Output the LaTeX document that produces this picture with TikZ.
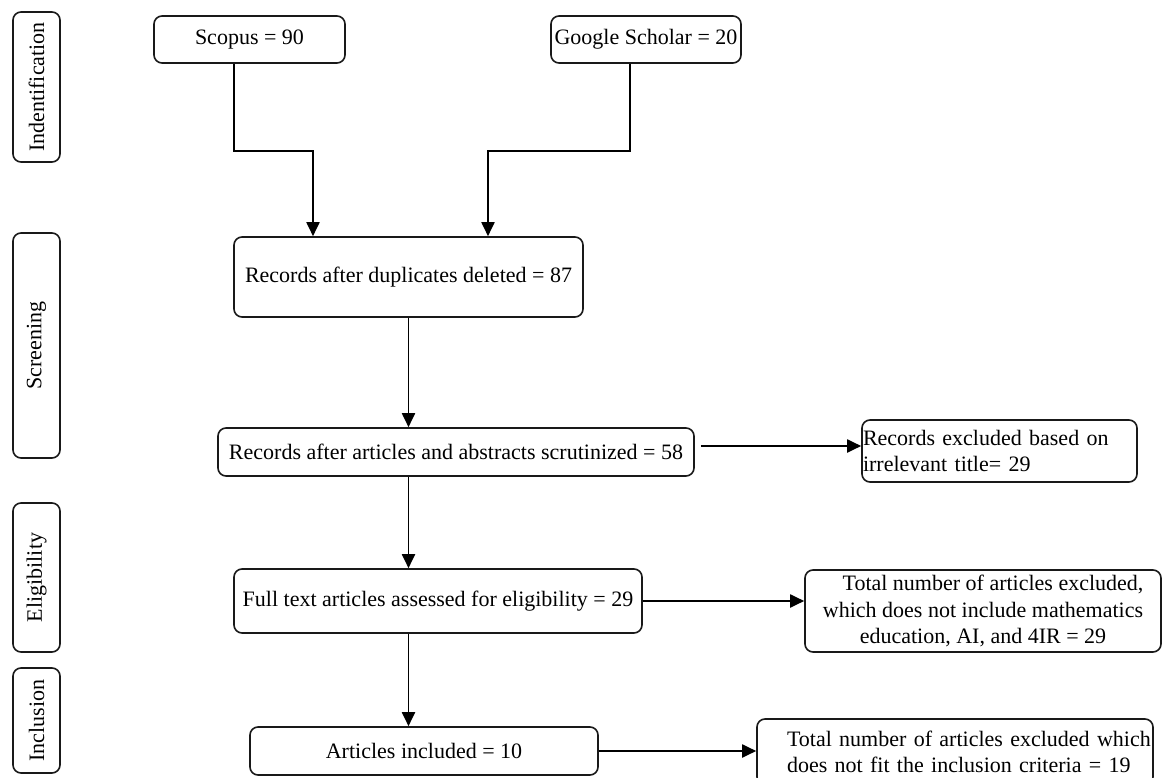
\documentclass[tikz,border=0pt]{standalone}
\usepackage{fontspec}
\setmainfont{Liberation Serif}
\usetikzlibrary{arrows.meta}
\newcommand\fsz{\fontsize{22}{26.5}\selectfont}
\begin{document}
\begin{tikzpicture}[x=1pt,y=-1pt,
  box/.style={draw=black!90, line width=1.6pt, rounded corners=8pt, inner sep=0pt, font=\fsz, text=black},
  side/.style={box, rotate=90},
  arr/.style={draw=black, line width=1.9pt, -{Triangle[length=14pt,width=13pt]}},
]
\clip (0,0) rectangle (1163,778);
\fill[white] (0,0) rectangle (1163,778);

% stage labels
\node[side, minimum width=150pt, minimum height=47pt] (l1) at (36.5,87) {Indentification};
\node[side, minimum width=225pt, minimum height=47pt] (l2) at (36.5,345.5) {Screening};
\node[side, minimum width=149pt, minimum height=47pt] (l3) at (36.5,577.5) {Eligibility};
\node[side, minimum width=105pt, minimum height=47pt] (l4) at (36.5,720.5) {Inclusion};

% main boxes
\node[box, minimum width=191pt, minimum height=47pt] (sc) at (249.5,39.5) {Scopus = 90};
\node[box, minimum width=190pt, minimum height=47pt] (gs) at (646,39.5) {Google Scholar = 20};
\node[box, minimum width=349pt, minimum height=80pt] (rd) at (408.5,277) {Records after duplicates deleted = 87};
\node[box, minimum width=476pt, minimum height=48pt] (r58) at (456,452) {Records after articles and abstracts scrutinized = 58};
\node[box, minimum height=62pt, text width=275pt, align=left] (ex1) at (999.5,451) {\hspace*{1pt}Records excluded based on\\\hspace*{1pt}irrelevant title= 29};
\node[box, minimum width=408pt, minimum height=64pt] (ft) at (438,601) {Full text articles assessed for eligibility = 29};
\node[box, minimum width=356pt, minimum height=82pt, align=center] (ex2) at (983,611) {\hspace*{20pt}Total number of articles excluded,\\which does not include mathematics\\education, AI, and 4IR = 29};
\node[box, minimum width=348pt, minimum height=48pt] (ar) at (424,751) {Articles included = 10};
\node[box, text width=396pt, minimum height=66pt, align=left] (ex3) at (955,752) {\hspace*{30pt}Total number of articles excluded which\\\hspace*{30pt}does not fit the inclusion criteria = 19};

% connectors
\draw[arr] ([xshift=-15.5pt]sc.south) -- ++(0,87) -| ([xshift=-95.5pt]rd.north);
\draw[arr] ([xshift=-16pt]gs.south) -- ++(0,87) -| ([xshift=79.5pt]rd.north);
\draw[arr] (rd.south) -- (rd.south |- r58.north);
\draw[arr] (rd.south |- r58.south) -- (rd.south |- ft.north);
\draw[arr] (rd.south |- ft.south) -- (rd.south |- ar.north);
\path ([yshift=6pt]r58.east) coordinate (a1);
\draw[arr, shorten <=6pt] (a1) -- (a1 -| ex1.west);
\draw[arr] (ft.east) -- (ft.east -| ex2.west);
\draw[arr] (ar.east) -- (ar.east -| ex3.west);
\end{tikzpicture}
\end{document}
